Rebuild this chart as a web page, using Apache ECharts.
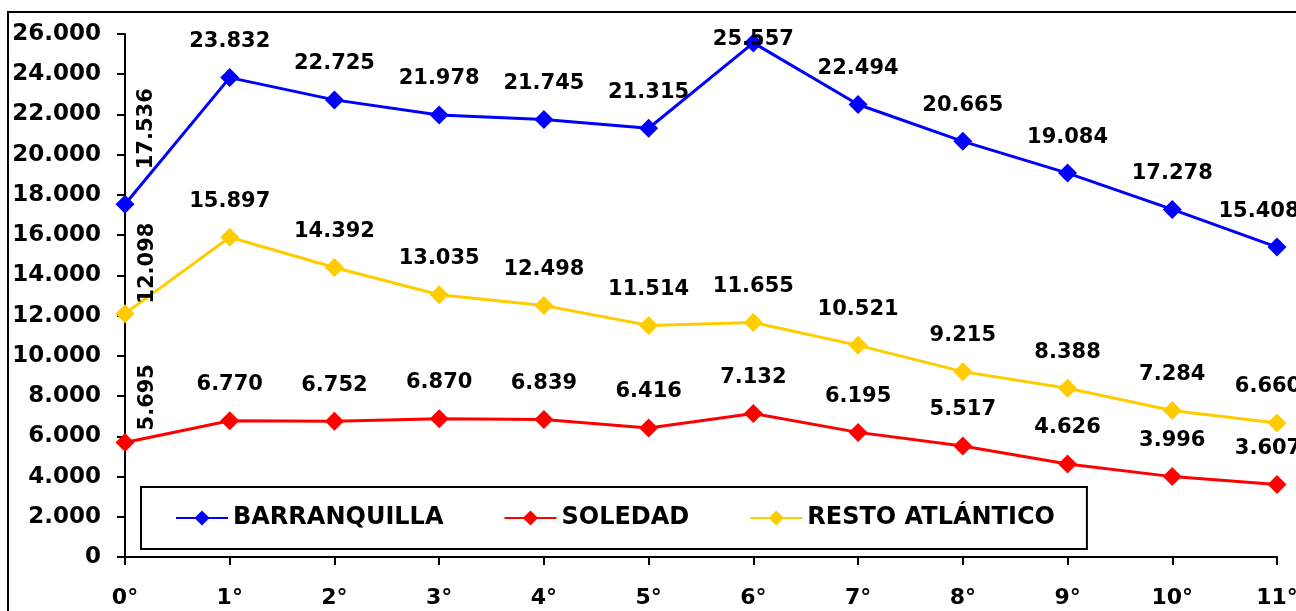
<!DOCTYPE html>
<html>
<head>
<meta charset="utf-8">
<script src="https://cdn.jsdelivr.net/npm/echarts@6/dist/echarts.min.js"></script>
<style>
  html, body { margin: 0; padding: 0; background: #fff; }
  #chart { width: 1296px; height: 611px; }
</style>
</head>
<body>
<div id="chart"></div>
<script>
const grados = ['0°', '1°', '2°', '3°', '4°', '5°', '6°', '7°', '8°', '9°', '10°', '11°']
const barranquilla = [17536, 23832, 22725, 21978, 21745, 21315, 25557, 22494, 20665, 19084, 17278, 15408]
const soledad = [5695, 6770, 6752, 6870, 6839, 6416, 7132, 6195, 5517, 4626, 3996, 3607]
const restoAtlantico = [12098, 15897, 14392, 13035, 12498, 11514, 11655, 10521, 9215, 8388, 7284, 6660]

const fontFamily = '"DejaVu Sans", sans-serif'

// 17536 -> "17.536"
function miles (v) {
  return String(v).replace(/\B(?=(\d{3})+(?!\d))/g, '.')
}

// first point gets a vertical label, a few others get nudged like in the original
function buildData (values, firstOffset, extra) {
  return values.map((v, i) => {
    if (i === 0) {
      return {
        value: v,
        label: {
          position: 'inside',
          rotate: 90,
          align: 'left',
          verticalAlign: 'middle',
          offset: firstOffset
        }
      }
    }
    if (extra && extra[i]) {
      return { value: v, label: extra[i] }
    }
    return v
  })
}

function lineSeries (name, color, data) {
  return {
    name: name,
    type: 'line',
    data: data,
    symbol: 'diamond',
    symbolSize: 19,
    itemStyle: { color: color },
    lineStyle: { color: color, width: 3 },
    label: {
      show: true,
      position: 'top',
      distance: 16,
      color: '#000',
      fontFamily: fontFamily,
      fontWeight: 'bold',
      fontSize: 21,
      formatter: p => miles(p.value)
    },
    animation: false
  }
}

const chart = echarts.init(document.getElementById('chart'))

chart.setOption({
  backgroundColor: '#fff',
  grid: {
    left: 125,
    right: 19,
    top: 34,
    bottom: 54,
    outerBoundsMode: 'none'
  },
  legend: {
    data: ['BARRANQUILLA', 'SOLEDAD', 'RESTO ATLÁNTICO'],
    left: 141,
    top: 487,
    padding: [19, 32, 19, 34],
    itemGap: 60,
    itemWidth: 52,
    itemHeight: 19,
    borderColor: '#000',
    borderWidth: 2,
    borderRadius: 0,
    backgroundColor: '#fff',
    textStyle: {
      color: '#000',
      fontFamily: fontFamily,
      fontWeight: 'bold',
      fontSize: 24
    }
  },
  xAxis: {
    type: 'category',
    data: grados,
    boundaryGap: false,
    axisLine: { lineStyle: { color: '#000', width: 2 } },
    axisTick: { show: true, length: 8, lineStyle: { color: '#000', width: 2 } },
    axisLabel: {
      margin: 30,
      color: '#000',
      fontFamily: fontFamily,
      fontWeight: 'bold',
      fontSize: 22
    }
  },
  yAxis: {
    type: 'value',
    min: 0,
    max: 26000,
    interval: 2000,
    splitLine: { show: false },
    axisLine: { show: true, lineStyle: { color: '#000', width: 2 } },
    axisTick: { show: true, length: 8, lineStyle: { color: '#000', width: 2 } },
    axisLabel: {
      margin: 24,
      color: '#000',
      fontFamily: fontFamily,
      fontWeight: 'bold',
      fontSize: 23,
      formatter: v => miles(v)
    }
  },
  graphic: [{
    type: 'rect',
    silent: true,
    z: 100,
    shape: { x: 8, y: 12, width: 1320, height: 700 },
    style: { fill: 'none', stroke: '#000', lineWidth: 2 }
  }],
  series: [
    lineSeries('BARRANQUILLA', '#0000ff',
      buildData(barranquilla, [35, 22], { 6: { offset: [0, 33] }, 11: { offset: [-18, 0] } })),
    lineSeries('SOLEDAD', '#ff0000',
      buildData(soledad, [12, 23], { 11: { offset: [-9, 0] } })),
    lineSeries('RESTO ATLÁNTICO', '#ffcc00',
      buildData(restoAtlantico, [10, 23], { 11: { offset: [-9, 0] } }))
  ]
})
</script>
</body>
</html>
